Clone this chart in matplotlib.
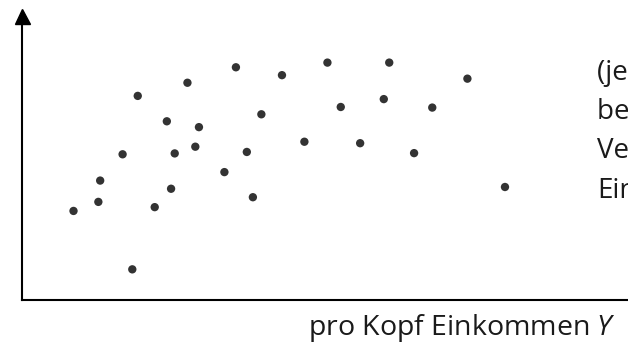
import matplotlib
matplotlib.use("Agg")
import matplotlib.pyplot as plt

plt.rcParams['font.family'] = ['Open Sans', 'DejaVu Sans']
plt.rcParams['mathtext.fontset'] = 'custom'
plt.rcParams['mathtext.it'] = 'Open Sans:italic'
plt.rcParams['mathtext.rm'] = 'Open Sans'

# Data (per-capita income vs. value), one point per economy
income = [8.5, 12.6, 12.9, 16.6, 19.1, 18.2, 21.9, 24.6, 23.9, 25.2,
          27.3, 29.2, 28.6, 33.4, 35.3, 37.1, 38.1, 39.5, 42.9, 46.6,
          50.4, 60.6, 73.5, 52.6, 59.7, 67.7, 55.8, 64.7, 79.7]
value = [30.5, 33.6, 40.9, 49.9, 69.9, 10.5, 31.8, 38.1, 61.2, 50.2,
         74.4, 59.2, 52.5, 43.8, 79.7, 50.7, 35.2, 63.6, 77.0, 54.2,
         81.3, 81.3, 75.8, 66.1, 68.8, 65.9, 53.7, 50.3, 38.7]

xlabel_text = 'pro Kopf Einkommen $\\mathit{Y}$'
note_lines = ['(jeder Punkt', 'bezeichnet ein', 'Verhältnis von', 'Einkommen)']

W, H = 628, 346
fig = plt.figure(figsize=(W / 100, H / 100), dpi=100)
x0, y0, x1, y1 = 22, 300, 628, 8
ax = fig.add_axes([x0 / W, (H - y0) / H, (x1 - x0) / W, (y0 - y1) / H])
ax.set_xlim(0, 100)
ax.set_ylim(0, 100)
ax.patch.set_alpha(0)

ax.scatter(income, value, s=36, color='#333333', edgecolors='none', zorder=3)

for s in ['top', 'right']:
    ax.spines[s].set_visible(False)
for s in ['left', 'bottom']:
    ax.spines[s].set_linewidth(1.5)
    ax.spines[s].set_color('black')
ax.spines['left'].set_bounds(0, 96)
ax.set_xticks([])
ax.set_yticks([])

# arrow head on the y axis
ax.plot([0], [1 - 7.5 / 292], marker='^', markersize=10.8, color='black',
        transform=ax.transAxes, clip_on=False, zorder=5)

fig.text(616 / W, (H - 335) / H, xlabel_text, ha='right', va='baseline',
         fontsize=20.5, color='#1a1a1a')

baselines = [80, 119, 158, 198]
for line, b in zip(note_lines, baselines):
    fig.text(597 / W, (H - b) / H, line, ha='left', va='baseline',
             fontsize=20, color='#1a1a1a')

fig.savefig('out.png', dpi=100)
